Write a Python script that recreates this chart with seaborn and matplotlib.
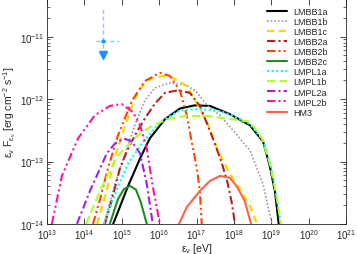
import numpy as np
import pandas as pd
import matplotlib
matplotlib.use("Agg")
import matplotlib.pyplot as plt
import matplotlib.ticker as mticker
import seaborn as sns

# --- data: log10(energy / eV) and log10(flux / erg cm^-2 s^-1) ---
lmbb1a_logE = [14.77, 15.17, 15.49, 15.75, 16.16, 16.56, 16.96, 17.36, 17.89, 18.43, 18.78, 18.96, 19.10, 19.20]
lmbb1a_logF = [-14.0, -13.39, -12.95, -12.63, -12.32, -12.15, -12.10, -12.11, -12.24, -12.42, -12.68, -13.07, -13.48, -14.0]

lmbb1b_logE = [14.52, 14.82, 15.09, 15.35, 15.62, 15.89, 16.29, 16.69, 16.98, 17.28, 17.63, 17.89, 18.43, 18.78, 19.02]
lmbb1b_logF = [-14.0, -13.36, -12.87, -12.42, -12.02, -11.82, -11.74, -11.77, -11.87, -12.10, -12.26, -12.44, -12.82, -13.36, -14.0]

lmbb1c_logE = [14.34, 14.63, 14.85, 15.09, 15.43, 15.75, 16.08, 16.37, 16.74, 17.09, 17.36, 17.55, 17.89, 18.16, 18.43, 18.62]
lmbb1c_logF = [-14.0, -13.39, -12.87, -12.42, -11.87, -11.68, -11.63, -11.66, -11.79, -12.15, -12.47, -12.79, -13.19, -13.44, -13.71, -14.0]

lmbb2a_logE = [14.55, 14.74, 14.95, 15.17, 15.41, 15.62, 15.89, 16.16, 16.50, 16.82, 17.09, 17.28, 17.49, 17.68, 17.84, 17.95, 18.03]
lmbb2a_logF = [-14.0, -13.60, -13.11, -12.79, -12.52, -12.31, -12.07, -11.90, -11.86, -11.90, -12.11, -12.39, -12.71, -13.03, -13.36, -13.68, -14.0]

lmbb2b_logE = [14.23, 14.42, 14.63, 14.90, 15.27, 15.62, 16.02, 16.29, 16.56, 16.74, 16.88, 17.01, 17.09, 17.14]
lmbb2b_logF = [-14.0, -13.60, -13.11, -12.58, -12.03, -11.71, -11.58, -11.63, -11.87, -12.26, -12.71, -13.11, -13.48, -14.0]

lmbb2c_logE = [14.68, 14.90, 15.06, 15.22, 15.38, 15.51, 15.67]
lmbb2c_logF = [-14.0, -13.60, -13.44, -13.39, -13.45, -13.65, -14.0]

lmpl1a_logE = [14.52, 14.82, 15.17, 15.54, 16.02, 16.56, 17.09, 17.63, 17.95, 18.43, 18.78, 18.99, 19.12, 19.26]
lmpl1a_logF = [-14.0, -13.52, -13.03, -12.71, -12.37, -12.18, -12.16, -12.19, -12.26, -12.40, -12.66, -13.07, -13.48, -14.0]

lmpl1b_logE = [14.04, 14.42, 14.87, 15.22, 15.49, 15.83, 16.29, 16.74, 17.28, 17.89, 18.43, 18.75, 18.96, 19.12, 19.26]
lmpl1b_logF = [-14.0, -13.47, -12.92, -12.71, -12.55, -12.42, -12.31, -12.27, -12.27, -12.32, -12.36, -12.63, -13.03, -13.48, -14.0]

lmpl2a_logE = [13.80, 14.15, 14.60, 14.82, 15.06, 15.27, 15.49, 15.67, 15.83]
lmpl2a_logF = [-14.0, -13.47, -12.87, -12.71, -12.63, -12.68, -12.87, -13.36, -14.0]

lmpl2b_logE = [13.13, 13.40, 13.83, 14.28, 14.68, 15.00, 15.30, 15.49, 15.67, 15.83, 16.02]
lmpl2b_logF = [-14.0, -13.23, -12.63, -12.26, -12.11, -12.08, -12.21, -12.42, -12.79, -13.40, -14.0]

hm3_logE = [16.53, 16.74, 17.09, 17.36, 17.63, 17.89, 18.08, 18.29, 18.46]
hm3_logF = [-14.0, -13.73, -13.47, -13.31, -13.23, -13.26, -13.40, -13.63, -14.0]

# upper limit (dashed cross with downward arrow)
ul_E = 3.14e14
ul_E_lo = 2.04e14
ul_E_hi = 8.2e14
ul_F = 8.6e-12
ul_F_top = 2.94e-11
ul_F_arrow = 5.1e-12

x_ticks = [1e13, 1e14, 1e15, 1e16, 1e17, 1e18, 1e19, 1e20, 1e21]
y_ticks = [1e-14, 1e-13, 1e-12, 1e-11]

sns.set_theme(style="ticks")
plt.rcParams["font.family"] = ["Liberation Sans", "DejaVu Sans"]
plt.rcParams["mathtext.fontset"] = "custom"
plt.rcParams["mathtext.rm"] = "Liberation Sans"
plt.rcParams["mathtext.it"] = "Liberation Sans:italic"
plt.rcParams["mathtext.default"] = "regular"

fig = plt.figure(figsize=(3.57, 2.55), dpi=100)
ax = fig.add_axes([47 / 357, 30 / 255, 299 / 357, 225 / 255])
ax.set_xscale("log")
ax.set_yscale("log")

dot = (0, (1, 1.2))
dash = (0, (3, 2))
dashdot = (0, (4, 1.5, 1, 1.5))
dashdotdot = (0, (4, 1.5, 1, 1.5, 1, 1.5))

models = [
    ("LMBB1a", lmbb1a_logE, lmbb1a_logF, "black", "-", 1.5),
    ("LMBB1b", lmbb1b_logE, lmbb1b_logF, "#999999", dot, 1.2),
    ("LMBB1c", lmbb1c_logE, lmbb1c_logF, "#ffd700", dash, 1.7),
    ("LMBB2a", lmbb2a_logE, lmbb2a_logF, "#b22222", dashdot, 1.5),
    ("LMBB2b", lmbb2b_logE, lmbb2b_logF, "#ff4500", dashdotdot, 1.5),
    ("LMBB2c", lmbb2c_logE, lmbb2c_logF, "#228b22", "-", 1.5),
    ("LMPL1a", lmpl1a_logE, lmpl1a_logF, "#00ffff", dot, 1.5),
    ("LMPL1b", lmpl1b_logE, lmpl1b_logF, "#adff2f", (0, (4, 2)), 1.5),
    ("LMPL2a", lmpl2a_logE, lmpl2a_logF, "#a020f0", dashdot, 1.5),
    ("LMPL2b", lmpl2b_logE, lmpl2b_logF, "#ff1493", dashdotdot, 1.5),
    ("HM3", hm3_logE, hm3_logF, "#ff6347", "-", 1.5),
]

for name, logE, logF, color, ls, lw in models:
    df = pd.DataFrame({"E": 10 ** np.array(logE), "F": 10 ** np.array(logF)})
    sns.lineplot(data=df, x="E", y="F", ax=ax, color=color, linestyle=ls,
                 linewidth=lw, label=name, sort=False, estimator=None)

eb = ax.errorbar(ul_E, ul_F,
                 xerr=[[ul_E - ul_E_lo], [ul_E_hi - ul_E]],
                 yerr=[[ul_F - ul_F_arrow], [ul_F_top - ul_F]],
                 fmt="o", ms=2, color="#8ec5ff", mfc="#1e90ff", mec="#1e90ff",
                 elinewidth=1.0, capsize=0)
for col in eb[2]:
    col.set_linestyle((0, (3, 2)))
ax.plot([ul_E], [ul_F_arrow], marker="v", ms=6, color="#1e90ff", ls="none")

ax.set_xlim(1e13, 1e21)
ax.set_ylim(1e-14, 4e-11)
ax.set_xticks(x_ticks)
ax.set_yticks(y_ticks)
ax.xaxis.set_minor_locator(mticker.NullLocator())
ax.yaxis.set_minor_locator(mticker.LogLocator(base=10, subs=np.arange(2, 10)))
ax.yaxis.set_minor_formatter(mticker.NullFormatter())
ax.tick_params(which="both", direction="in", top=True, right=True, labelsize=7, pad=2)
ax.tick_params(which="major", length=4, width=0.6)
ax.tick_params(which="minor", length=2, width=0.5)
for s in ax.spines.values():
    s.set_linewidth(0.6)

ax.set_xlabel(r"$\epsilon_\nu$ [eV]", fontsize=7.5, labelpad=0)
ax.set_ylabel(r"$\epsilon_\nu\ F_{\epsilon_\nu}$ [erg cm$^{-2}$ s$^{-1}$]", fontsize=7.5, labelpad=1)

ax.legend(loc="upper left", bbox_to_anchor=(0.735, 0.965), frameon=False,
          fontsize=6.5, handlelength=2.2, handletextpad=0.7, labelspacing=0.12,
          borderaxespad=0, borderpad=0)

fig.savefig("out.png", dpi=100)
